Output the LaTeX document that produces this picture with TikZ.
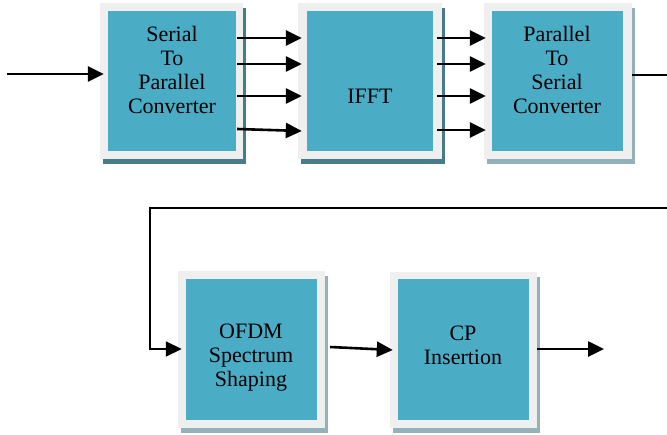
\documentclass[tikz,border=0pt]{standalone}
\usepackage{fontspec}
\setmainfont{Liberation Serif}
\usetikzlibrary{arrows.meta,fit}
\definecolor{tealfill}{HTML}{4BACC6}
\definecolor{framec}{HTML}{EFEFEF}
\definecolor{shadowdark}{HTML}{467C87}
\definecolor{shadowlight}{HTML}{94B1B9}
\tikzset{
  frame/.style={fill=framec, inner sep=0pt, draw=none},
  innerbox/.style={fill=tealfill, inner sep=0pt, draw=none},
  txt/.style={align=center, font=\rmfamily\fontsize{22}{24}\selectfont, inner sep=0pt},
  arr/.style={line width=2.6pt, -{Triangle[length=16pt,width=15pt]}},
  wire/.style={line width=2.2pt},
}
\begin{document}
\begin{tikzpicture}[x=1pt,y=-1pt]
\useasboundingbox (0,0) rectangle (667,434);
% shadows
\fill[shadowdark] (103,8) rectangle (246,164);
\fill[shadowdark] (301,8) rectangle (445,164);
\fill[shadowlight] (487,8) rectangle (635,164);
\fill[shadowlight] (181,276) rectangle (328,433);
\fill[shadowlight] (393,277) rectangle (540,433);
% frames
\node[frame, fit={(100,3) (243,159)}] (b1) {};
\node[frame, fit={(298,3) (442,159)}] (b2) {};
\node[frame, fit={(484,3) (632,159)}] (b3) {};
\node[frame, fit={(178,271) (325,428)}] (b4) {};
\node[frame, fit={(390,272) (537,428)}] (b5) {};
% inner boxes
\node[innerbox, fit={(108,11) (236,151)}] (b1i) {};
\node[innerbox, fit={(307,11) (433,151)}] (b2i) {};
\node[innerbox, fit={(492,11) (623,151)}] (b3i) {};
\node[innerbox, fit={(186,279) (317,420)}] (b4i) {};
\node[innerbox, fit={(398,279) (529,420)}] (b5i) {};
% texts
\node[txt] (t1) at (172,70) {Serial\\To\\Parallel\\Converter};
\node[txt] (t2) at (370,96) {IFFT};
\node[txt] (t3) at (557,70) {Parallel\\To\\Serial\\Converter};
\node[txt] (t4) at (251,358) {OFDM\\Spectrum\\Shaping};
\node[txt] (t5) at (463,345) {CP\\Insertion};
% connectors
\coordinate (in) at (7,74);
\coordinate (e1) at (667,75);
\coordinate (e2) at (667,208);
\coordinate (c1) at (150,208);
\coordinate (out) at (604,349);
\draw[arr] (in) -- ([xshift=4pt]b1.west |- 0,74);
\foreach \y in {38,64,96} {
  \draw[arr] ([xshift=1pt]b1i.east |- 0,\y) -- ([xshift=4pt]b2.west |- 0,\y);
  \draw[arr] ([xshift=4pt]b2i.east |- 0,\y) -- ([xshift=2pt]b3.west |- 0,\y);
}
\draw[arr] ([xshift=1pt]b1i.east |- 0,129) -- ([xshift=4pt]b2.west |- 0,131);
\draw[arr] ([xshift=4pt]b2i.east |- 0,130) -- ([xshift=2pt]b3.west |- 0,130);
\draw[wire] (b3.east |- 0,75) -- (e1);
\draw[arr, line width=1.8pt] (e2) -- (c1) |- ([xshift=4pt]b4.west |- 0,349);
\draw[arr] ([xshift=5pt]b4.east |- 0,347) -- ([xshift=3pt]b5.west |- 0,350);
\draw[arr] (b5.east |- 0,349) -- (out);
\end{tikzpicture}
\end{document}
